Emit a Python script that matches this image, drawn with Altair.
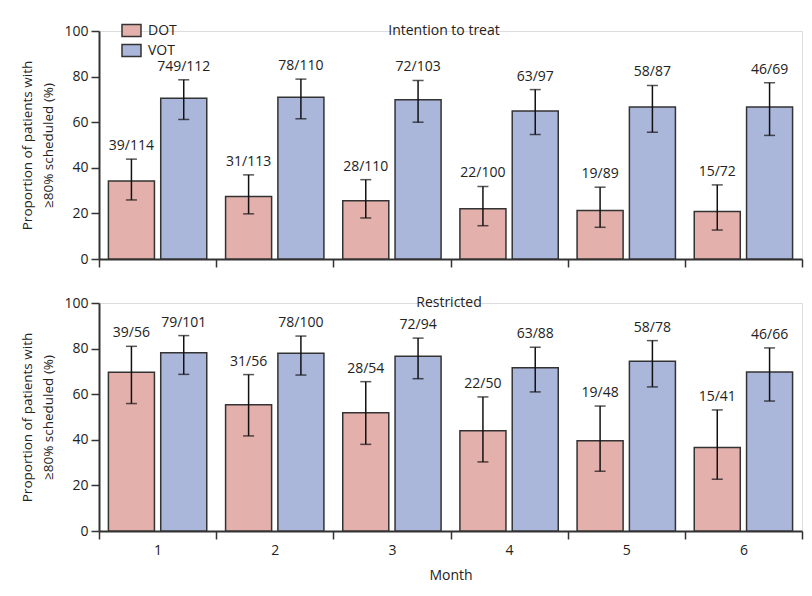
import altair as alt
import pandas as pd

months = ["1", "2", "3", "4", "5", "6"]
groups = ["DOT", "VOT"]

itt_dot_val = [34.2, 27.4, 25.5, 22.0, 21.3, 20.8]
itt_dot_lo = [25.9, 19.8, 18.0, 14.6, 13.9, 12.7]
itt_dot_hi = [43.8, 36.9, 34.8, 31.8, 31.5, 32.5]
itt_dot_lab = ["39/114", "31/113", "28/110", "22/100", "19/89", "15/72"]
itt_vot_val = [70.5, 70.9, 69.9, 64.9, 66.7, 66.7]
itt_vot_lo = [61.2, 61.5, 60.0, 54.6, 55.6, 54.2]
itt_vot_hi = [78.6, 78.9, 78.3, 74.3, 76.1, 77.3]
itt_vot_lab = ["749/112", "78/110", "72/103", "63/97", "58/87", "46/69"]

res_dot_val = [69.6, 55.4, 51.9, 44.0, 39.6, 36.6]
res_dot_lo = [55.9, 41.7, 38.0, 30.3, 26.2, 22.7]
res_dot_hi = [81.0, 68.6, 65.5, 58.8, 54.8, 53.1]
res_dot_lab = ["39/56", "31/56", "28/54", "22/50", "19/48", "15/41"]
res_vot_val = [78.2, 78.0, 76.6, 71.6, 74.4, 69.7]
res_vot_lo = [68.7, 68.4, 66.8, 61.0, 63.2, 57.0]
res_vot_hi = [85.7, 85.5, 84.6, 80.6, 83.5, 80.3]
res_vot_lab = ["79/101", "78/100", "72/94", "63/88", "58/78", "46/66"]

FONT = "Open Sans"
TXT = "#222222"
STROKE = "#333333"
PINK = "#E3B0AC"
BLUE = "#ABB6DB"
W, H = 703, 228


def frame(dv, dl, dh, dlab, vv, vl, vh, vlab):
    rows = []
    for i, m in enumerate(months):
        rows.append(dict(month=m, group="DOT", val=dv[i], lo=dl[i], hi=dh[i], lab=dlab[i]))
        rows.append(dict(month=m, group="VOT", val=vv[i], lo=vl[i], hi=vh[i], lab=vlab[i]))
    return pd.DataFrame(rows)


def panel(df, title, title_x, show_x_labels, show_legend):
    x = alt.X("month:N", sort=months,
              scale=alt.Scale(paddingInner=0, paddingOuter=0),
              axis=alt.Axis(title="Month" if show_x_labels else None,
                            labels=show_x_labels, labelAngle=0,
                            tickBand="extent", tickSize=8, tickWidth=1.5,
                            tickColor=STROKE, domainColor=STROKE, domainWidth=2,
                            labelFontSize=14, labelColor=TXT, labelFont=FONT,
                            labelPadding=4,
                            titleFont=FONT, titleFontSize=14, titleFontWeight="normal",
                            titleColor=TXT, titlePadding=11))
    xo = alt.XOffset("group:N", sort=groups,
                     scale=alt.Scale(paddingInner=0.12, paddingOuter=0.18))
    y_axis = alt.Axis(title=["Proportion of patients with", "≥80% scheduled (%)"],
                      values=[0, 20, 40, 60, 80, 100], grid=False,
                      tickSize=8, tickWidth=1.5, tickColor=STROKE,
                      domainColor=STROKE, domainWidth=2,
                      labelFontSize=14, labelColor=TXT, labelFont=FONT, labelPadding=3,
                      titleFont=FONT, titleFontSize=13.5, titleFontWeight="normal",
                      titleColor=TXT, titlePadding=8, titleLineHeight=21)
    y = alt.Y("val:Q", scale=alt.Scale(domain=[0, 100], nice=False), axis=y_axis)
    legend = None
    if show_legend:
        legend = alt.Legend(title=None, orient="none", legendX=22, legendY=-11,
                            symbolType="M-1,-0.63L1,-0.63L1,0.63L-1,0.63Z",
                            symbolSize=361, symbolStrokeColor=STROKE,
                            symbolStrokeWidth=1.5, symbolOpacity=1,
                            labelFont=FONT, labelFontSize=14, labelColor=TXT,
                            labelOffset=6, rowPadding=0)
    color = alt.Color("group:N", sort=groups,
                      scale=alt.Scale(domain=groups, range=[PINK, BLUE]),
                      legend=legend)
    base = alt.Chart(df)
    bars = base.mark_bar(stroke=STROKE, strokeWidth=1.5, opacity=1).encode(
        x=x, xOffset=xo, y=y, color=color)
    err = base.mark_rule(color="#111111", strokeWidth=1.5).encode(
        x=x, xOffset=xo, y="lo:Q", y2="hi:Q")
    cap_lo = base.mark_tick(color="#111111", size=11, thickness=1.5).encode(
        x=x, xOffset=xo, y="lo:Q")
    cap_hi = base.mark_tick(color="#111111", size=11, thickness=1.5).encode(
        x=x, xOffset=xo, y="hi:Q")
    labels = base.mark_text(font=FONT, fontSize=14, color=TXT,
                            baseline="alphabetic", dy=-9).encode(
        x=x, xOffset=xo, y="hi:Q", text="lab:N")
    ttl = alt.Chart(pd.DataFrame({"t": [title]})).mark_text(
        font=FONT, fontSize=14, color=TXT, baseline="middle").encode(
        x=alt.value(title_x), y=alt.value(0), text="t:N")
    return alt.layer(bars, err, cap_lo, cap_hi, labels, ttl).properties(width=W, height=H)


top = panel(frame(itt_dot_val, itt_dot_lo, itt_dot_hi, itt_dot_lab,
                  itt_vot_val, itt_vot_lo, itt_vot_hi, itt_vot_lab),
            "Intention to treat", 345, False, True)
bottom = panel(frame(res_dot_val, res_dot_lo, res_dot_hi, res_dot_lab,
                     res_vot_val, res_vot_lo, res_vot_hi, res_vot_lab),
               "Restricted", 350, True, False)

chart = alt.vconcat(top, bottom, spacing=26).properties(
    padding={"top": 12, "left": 12, "right": 0, "bottom": 0}
).configure_view(stroke=None).configure(background="white")

chart.save("out.html", embed_options={"renderer": "svg", "actions": False})
